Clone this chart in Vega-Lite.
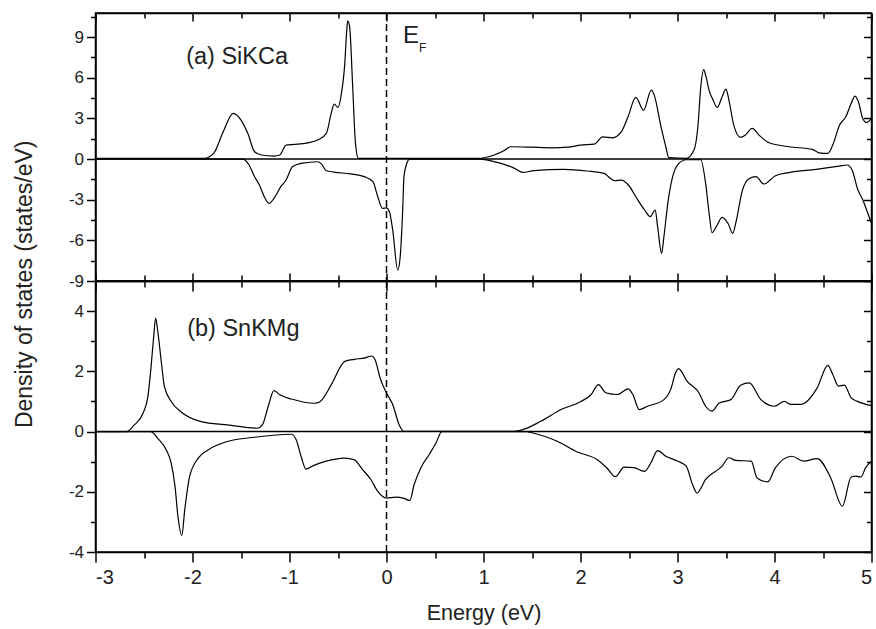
{
  "$schema": "https://vega.github.io/schema/vega-lite/v6.json",
  "padding": {"left": 12.5, "top": 11, "right": 5, "bottom": 5},
  "spacing": 0,
  "bounds": "flush",
  "datasets": {
    "top": [
      {"E": -3, "D": 0.05, "spin": "up"}, {"E": -1.88, "D": 0.05, "spin": "up"}, {"E": -1.78, "D": 0.44, "spin": "up"}, {"E": -1.69, "D": 1.9, "spin": "up"}, {"E": -1.58, "D": 3.37, "spin": "up"}, {"E": -1.5, "D": 2.88, "spin": "up"}, {"E": -1.43, "D": 1.9, "spin": "up"}, {"E": -1.36, "D": 0.54, "spin": "up"}, {"E": -1.29, "D": 0.3, "spin": "up"}, {"E": -1.16, "D": 0.22, "spin": "up"}, {"E": -1.1, "D": 0.3, "spin": "up"}, {"E": -1.035, "D": 1.03, "spin": "up"}, {"E": -0.95, "D": 1.08, "spin": "up"}, {"E": -0.81, "D": 1.2, "spin": "up"}, {"E": -0.71, "D": 1.4, "spin": "up"}, {"E": -0.62, "D": 1.9, "spin": "up"}, {"E": -0.57, "D": 3.37, "spin": "up"}, {"E": -0.54, "D": 4.06, "spin": "up"}, {"E": -0.5, "D": 3.81, "spin": "up"}, {"E": -0.47, "D": 4.6, "spin": "up"}, {"E": -0.43, "D": 7.06, "spin": "up"}, {"E": -0.41, "D": 9.5, "spin": "up"}, {"E": -0.4, "D": 10.2, "spin": "up"}, {"E": -0.38, "D": 9.76, "spin": "up"}, {"E": -0.35, "D": 5.58, "spin": "up"}, {"E": -0.32, "D": 1.16, "spin": "up"}, {"E": -0.29, "D": 0.05, "spin": "up"}, {"E": 0.94, "D": 0.05, "spin": "up"}, {"E": 1.11, "D": 0.3, "spin": "up"}, {"E": 1.21, "D": 0.61, "spin": "up"}, {"E": 1.28, "D": 0.91, "spin": "up"}, {"E": 1.49, "D": 0.88, "spin": "up"}, {"E": 1.7, "D": 0.83, "spin": "up"}, {"E": 1.87, "D": 0.88, "spin": "up"}, {"E": 2.0, "D": 1.03, "spin": "up"}, {"E": 2.14, "D": 1.1, "spin": "up"}, {"E": 2.23, "D": 1.64, "spin": "up"}, {"E": 2.33, "D": 1.57, "spin": "up"}, {"E": 2.42, "D": 2.0, "spin": "up"}, {"E": 2.49, "D": 3.12, "spin": "up"}, {"E": 2.57, "D": 4.55, "spin": "up"}, {"E": 2.65, "D": 3.6, "spin": "up"}, {"E": 2.73, "D": 5.09, "spin": "up"}, {"E": 2.76, "D": 4.72, "spin": "up"}, {"E": 2.83, "D": 2.38, "spin": "up"}, {"E": 2.88, "D": 0.9, "spin": "up"}, {"E": 2.91, "D": 0.1, "spin": "up"}, {"E": 3.09, "D": 0.05, "spin": "up"}, {"E": 3.17, "D": 0.66, "spin": "up"}, {"E": 3.21, "D": 2.38, "spin": "up"}, {"E": 3.24, "D": 5.33, "spin": "up"}, {"E": 3.27, "D": 6.6, "spin": "up"}, {"E": 3.29, "D": 6.2, "spin": "up"}, {"E": 3.33, "D": 4.96, "spin": "up"}, {"E": 3.36, "D": 4.47, "spin": "up"}, {"E": 3.41, "D": 3.81, "spin": "up"}, {"E": 3.46, "D": 4.6, "spin": "up"}, {"E": 3.5, "D": 5.16, "spin": "up"}, {"E": 3.53, "D": 4.35, "spin": "up"}, {"E": 3.58, "D": 2.5, "spin": "up"}, {"E": 3.65, "D": 1.6, "spin": "up"}, {"E": 3.7, "D": 1.77, "spin": "up"}, {"E": 3.77, "D": 2.26, "spin": "up"}, {"E": 3.84, "D": 1.77, "spin": "up"}, {"E": 3.945, "D": 1.2, "spin": "up"}, {"E": 4.15, "D": 0.91, "spin": "up"}, {"E": 4.39, "D": 0.71, "spin": "up"}, {"E": 4.46, "D": 0.46, "spin": "up"}, {"E": 4.55, "D": 0.42, "spin": "up"}, {"E": 4.6, "D": 1.03, "spin": "up"}, {"E": 4.67, "D": 2.5, "spin": "up"}, {"E": 4.735, "D": 3.12, "spin": "up"}, {"E": 4.79, "D": 4.1, "spin": "up"}, {"E": 4.83, "D": 4.65, "spin": "up"}, {"E": 4.865, "D": 4.23, "spin": "up"}, {"E": 4.91, "D": 3.0, "spin": "up"}, {"E": 4.95, "D": 2.7, "spin": "up"}, {"E": 5.0, "D": 3.0, "spin": "up"},
      {"E": -3, "D": 0, "spin": "down"}, {"E": -1.48, "D": 0, "spin": "down"}, {"E": -1.42, "D": -0.4, "spin": "down"}, {"E": -1.36, "D": -1.3, "spin": "down"}, {"E": -1.31, "D": -1.92, "spin": "down"}, {"E": -1.26, "D": -2.78, "spin": "down"}, {"E": -1.21, "D": -3.27, "spin": "down"}, {"E": -1.16, "D": -2.9, "spin": "down"}, {"E": -1.09, "D": -2.04, "spin": "down"}, {"E": -1.035, "D": -1.55, "spin": "down"}, {"E": -0.97, "D": -0.57, "spin": "down"}, {"E": -0.88, "D": -0.32, "spin": "down"}, {"E": -0.71, "D": -0.2, "spin": "down"}, {"E": -0.67, "D": -0.37, "spin": "down"}, {"E": -0.62, "D": -0.86, "spin": "down"}, {"E": -0.54, "D": -0.96, "spin": "down"}, {"E": -0.37, "D": -1.1, "spin": "down"}, {"E": -0.23, "D": -1.3, "spin": "down"}, {"E": -0.14, "D": -1.67, "spin": "down"}, {"E": -0.09, "D": -2.78, "spin": "down"}, {"E": -0.04, "D": -3.64, "spin": "down"}, {"E": 0.0, "D": -3.6, "spin": "down"}, {"E": 0.03, "D": -3.89, "spin": "down"}, {"E": 0.064, "D": -5.24, "spin": "down"}, {"E": 0.116, "D": -8.19, "spin": "down"}, {"E": 0.14, "D": -7.3, "spin": "down"}, {"E": 0.167, "D": -3.76, "spin": "down"}, {"E": 0.18, "D": -1.3, "spin": "down"}, {"E": 0.21, "D": -0.32, "spin": "down"}, {"E": 0.235, "D": 0, "spin": "down"}, {"E": 0.94, "D": 0, "spin": "down"}, {"E": 1.18, "D": -0.32, "spin": "down"}, {"E": 1.32, "D": -0.69, "spin": "down"}, {"E": 1.4, "D": -0.98, "spin": "down"}, {"E": 1.52, "D": -0.86, "spin": "down"}, {"E": 1.83, "D": -0.76, "spin": "down"}, {"E": 2.07, "D": -0.88, "spin": "down"}, {"E": 2.245, "D": -1.06, "spin": "down"}, {"E": 2.3, "D": -1.38, "spin": "down"}, {"E": 2.35, "D": -1.6, "spin": "down"}, {"E": 2.42, "D": -1.55, "spin": "down"}, {"E": 2.5, "D": -1.97, "spin": "down"}, {"E": 2.57, "D": -2.78, "spin": "down"}, {"E": 2.66, "D": -3.76, "spin": "down"}, {"E": 2.72, "D": -4.25, "spin": "down"}, {"E": 2.77, "D": -3.76, "spin": "down"}, {"E": 2.795, "D": -4.99, "spin": "down"}, {"E": 2.836, "D": -6.96, "spin": "down"}, {"E": 2.86, "D": -5.73, "spin": "down"}, {"E": 2.9, "D": -3.27, "spin": "down"}, {"E": 2.95, "D": -1.3, "spin": "down"}, {"E": 3.0, "D": -0.44, "spin": "down"}, {"E": 3.09, "D": -0.05, "spin": "down"}, {"E": 3.24, "D": -0.05, "spin": "down"}, {"E": 3.29, "D": -1.8, "spin": "down"}, {"E": 3.33, "D": -4.25, "spin": "down"}, {"E": 3.355, "D": -5.43, "spin": "down"}, {"E": 3.4, "D": -4.99, "spin": "down"}, {"E": 3.46, "D": -4.3, "spin": "down"}, {"E": 3.52, "D": -4.74, "spin": "down"}, {"E": 3.57, "D": -5.48, "spin": "down"}, {"E": 3.6, "D": -4.74, "spin": "down"}, {"E": 3.67, "D": -2.29, "spin": "down"}, {"E": 3.74, "D": -1.43, "spin": "down"}, {"E": 3.81, "D": -1.3, "spin": "down"}, {"E": 3.89, "D": -1.84, "spin": "down"}, {"E": 4.01, "D": -1.23, "spin": "down"}, {"E": 4.15, "D": -1.0, "spin": "down"}, {"E": 4.43, "D": -0.76, "spin": "down"}, {"E": 4.67, "D": -0.52, "spin": "down"}, {"E": 4.75, "D": -0.44, "spin": "down"}, {"E": 4.8, "D": -0.81, "spin": "down"}, {"E": 4.86, "D": -2.29, "spin": "down"}, {"E": 4.91, "D": -3.0, "spin": "down"}, {"E": 4.95, "D": -3.76, "spin": "down"}, {"E": 5.0, "D": -4.74, "spin": "down"}
    ],
    "bottom": [
      {"E": -3, "D": 0, "spin": "up"}, {"E": -2.68, "D": 0, "spin": "up"}, {"E": -2.6, "D": 0.22, "spin": "up"}, {"E": -2.51, "D": 0.61, "spin": "up"}, {"E": -2.46, "D": 1.16, "spin": "up"}, {"E": -2.43, "D": 2.05, "spin": "up"}, {"E": -2.4, "D": 3.16, "spin": "up"}, {"E": -2.38, "D": 3.77, "spin": "up"}, {"E": -2.36, "D": 3.38, "spin": "up"}, {"E": -2.32, "D": 2.27, "spin": "up"}, {"E": -2.29, "D": 1.5, "spin": "up"}, {"E": -2.22, "D": 1.0, "spin": "up"}, {"E": -2.12, "D": 0.66, "spin": "up"}, {"E": -1.91, "D": 0.33, "spin": "up"}, {"E": -1.64, "D": 0.22, "spin": "up"}, {"E": -1.33, "D": 0.11, "spin": "up"}, {"E": -1.28, "D": 0.22, "spin": "up"}, {"E": -1.22, "D": 0.83, "spin": "up"}, {"E": -1.16, "D": 1.36, "spin": "up"}, {"E": -1.1, "D": 1.22, "spin": "up"}, {"E": -0.98, "D": 1.08, "spin": "up"}, {"E": -0.74, "D": 0.94, "spin": "up"}, {"E": -0.69, "D": 0.98, "spin": "up"}, {"E": -0.57, "D": 1.55, "spin": "up"}, {"E": -0.43, "D": 2.33, "spin": "up"}, {"E": -0.33, "D": 2.4, "spin": "up"}, {"E": -0.23, "D": 2.44, "spin": "up"}, {"E": -0.15, "D": 2.51, "spin": "up"}, {"E": -0.12, "D": 2.4, "spin": "up"}, {"E": -0.06, "D": 1.72, "spin": "up"}, {"E": 0.0, "D": 1.28, "spin": "up"}, {"E": 0.064, "D": 0.9, "spin": "up"}, {"E": 0.13, "D": 0.23, "spin": "up"}, {"E": 0.18, "D": 0.01, "spin": "up"}, {"E": 1.3, "D": 0.01, "spin": "up"}, {"E": 1.39, "D": 0.05, "spin": "up"}, {"E": 1.59, "D": 0.34, "spin": "up"}, {"E": 1.8, "D": 0.73, "spin": "up"}, {"E": 2.0, "D": 0.99, "spin": "up"}, {"E": 2.11, "D": 1.23, "spin": "up"}, {"E": 2.185, "D": 1.56, "spin": "up"}, {"E": 2.26, "D": 1.29, "spin": "up"}, {"E": 2.38, "D": 1.23, "spin": "up"}, {"E": 2.49, "D": 1.42, "spin": "up"}, {"E": 2.54, "D": 1.23, "spin": "up"}, {"E": 2.605, "D": 0.73, "spin": "up"}, {"E": 2.69, "D": 0.84, "spin": "up"}, {"E": 2.86, "D": 1.06, "spin": "up"}, {"E": 2.93, "D": 1.4, "spin": "up"}, {"E": 2.98, "D": 1.95, "spin": "up"}, {"E": 3.01, "D": 2.09, "spin": "up"}, {"E": 3.1, "D": 1.67, "spin": "up"}, {"E": 3.22, "D": 1.29, "spin": "up"}, {"E": 3.29, "D": 0.84, "spin": "up"}, {"E": 3.355, "D": 0.68, "spin": "up"}, {"E": 3.43, "D": 0.95, "spin": "up"}, {"E": 3.55, "D": 1.06, "spin": "up"}, {"E": 3.65, "D": 1.54, "spin": "up"}, {"E": 3.74, "D": 1.62, "spin": "up"}, {"E": 3.86, "D": 1.06, "spin": "up"}, {"E": 4.0, "D": 0.84, "spin": "up"}, {"E": 4.1, "D": 1.0, "spin": "up"}, {"E": 4.17, "D": 0.9, "spin": "up"}, {"E": 4.27, "D": 0.9, "spin": "up"}, {"E": 4.44, "D": 1.45, "spin": "up"}, {"E": 4.55, "D": 2.2, "spin": "up"}, {"E": 4.6, "D": 1.9, "spin": "up"}, {"E": 4.66, "D": 1.51, "spin": "up"}, {"E": 4.72, "D": 1.54, "spin": "up"}, {"E": 4.79, "D": 1.12, "spin": "up"}, {"E": 4.85, "D": 1.01, "spin": "up"}, {"E": 5.0, "D": 0.86, "spin": "up"},
      {"E": -3, "D": 0, "spin": "down"}, {"E": -2.43, "D": 0, "spin": "down"}, {"E": -2.36, "D": -0.22, "spin": "down"}, {"E": -2.27, "D": -0.61, "spin": "down"}, {"E": -2.22, "D": -1.05, "spin": "down"}, {"E": -2.18, "D": -1.83, "spin": "down"}, {"E": -2.15, "D": -2.82, "spin": "down"}, {"E": -2.11, "D": -3.45, "spin": "down"}, {"E": -2.08, "D": -2.6, "spin": "down"}, {"E": -2.03, "D": -1.5, "spin": "down"}, {"E": -1.94, "D": -0.88, "spin": "down"}, {"E": -1.84, "D": -0.61, "spin": "down"}, {"E": -1.64, "D": -0.33, "spin": "down"}, {"E": -1.36, "D": -0.19, "spin": "down"}, {"E": -0.98, "D": -0.09, "spin": "down"}, {"E": -0.93, "D": -0.28, "spin": "down"}, {"E": -0.88, "D": -0.83, "spin": "down"}, {"E": -0.83, "D": -1.25, "spin": "down"}, {"E": -0.76, "D": -1.14, "spin": "down"}, {"E": -0.64, "D": -1.0, "spin": "down"}, {"E": -0.43, "D": -0.88, "spin": "down"}, {"E": -0.33, "D": -0.94, "spin": "down"}, {"E": -0.25, "D": -1.25, "spin": "down"}, {"E": -0.16, "D": -1.6, "spin": "down"}, {"E": -0.09, "D": -1.99, "spin": "down"}, {"E": 0.0, "D": -2.21, "spin": "down"}, {"E": 0.1, "D": -2.18, "spin": "down"}, {"E": 0.18, "D": -2.22, "spin": "down"}, {"E": 0.24, "D": -2.29, "spin": "down"}, {"E": 0.285, "D": -1.76, "spin": "down"}, {"E": 0.355, "D": -1.2, "spin": "down"}, {"E": 0.44, "D": -0.76, "spin": "down"}, {"E": 0.51, "D": -0.38, "spin": "down"}, {"E": 0.57, "D": 0, "spin": "down"}, {"E": 1.45, "D": 0, "spin": "down"}, {"E": 1.49, "D": -0.03, "spin": "down"}, {"E": 1.76, "D": -0.32, "spin": "down"}, {"E": 1.96, "D": -0.67, "spin": "down"}, {"E": 2.17, "D": -0.93, "spin": "down"}, {"E": 2.27, "D": -1.2, "spin": "down"}, {"E": 2.36, "D": -1.5, "spin": "down"}, {"E": 2.45, "D": -1.18, "spin": "down"}, {"E": 2.55, "D": -1.2, "spin": "down"}, {"E": 2.66, "D": -1.32, "spin": "down"}, {"E": 2.725, "D": -1.04, "spin": "down"}, {"E": 2.795, "D": -0.63, "spin": "down"}, {"E": 2.88, "D": -0.82, "spin": "down"}, {"E": 3.0, "D": -0.98, "spin": "down"}, {"E": 3.09, "D": -1.15, "spin": "down"}, {"E": 3.155, "D": -1.76, "spin": "down"}, {"E": 3.2, "D": -2.04, "spin": "down"}, {"E": 3.29, "D": -1.59, "spin": "down"}, {"E": 3.46, "D": -1.15, "spin": "down"}, {"E": 3.53, "D": -0.87, "spin": "down"}, {"E": 3.6, "D": -0.96, "spin": "down"}, {"E": 3.76, "D": -0.98, "spin": "down"}, {"E": 3.82, "D": -1.54, "spin": "down"}, {"E": 3.93, "D": -1.67, "spin": "down"}, {"E": 4.01, "D": -1.2, "spin": "down"}, {"E": 4.18, "D": -0.82, "spin": "down"}, {"E": 4.3, "D": -0.98, "spin": "down"}, {"E": 4.44, "D": -0.9, "spin": "down"}, {"E": 4.58, "D": -1.54, "spin": "down"}, {"E": 4.7, "D": -2.48, "spin": "down"}, {"E": 4.79, "D": -1.51, "spin": "down"}, {"E": 4.84, "D": -1.48, "spin": "down"}, {"E": 4.89, "D": -1.51, "spin": "down"}, {"E": 4.94, "D": -1.2, "spin": "down"}, {"E": 5.0, "D": -0.98, "spin": "down"}
    ],
    "labelsTop": [{"label": "(a) SiKCa", "kind": "name"}, {"label": "E", "kind": "E"}, {"label": "F", "kind": "F"}],
    "labelsBottom": [{"label": "(b) SnKMg", "kind": "name"}],
    "one": [{"k": 0}]
  },
  "vconcat": [
    {
      "width": 776,
      "height": 268,
      "layer": [
        {
          "data": {"name": "top"},
          "mark": {"type": "line", "color": "black", "strokeWidth": 1.2, "interpolate": "monotone"},
          "encoding": {
            "x": {"field": "E", "type": "quantitative", "scale": {"domain": [-3, 5], "nice": false, "zero": false},
              "axis": {"orient": "bottom", "values": [-3, -2.5, -2, -1.5, -1, -0.5, 0, 0.5, 1, 1.5, 2, 2.5, 3, 3.5, 4, 4.5, 5], "labels": false, "title": null,
                "tickSize": {"condition": {"test": "datum.value % 1 !== 0", "value": -6}, "value": -8}}},
            "y": {"field": "D", "type": "quantitative", "scale": {"domain": [-9, 10.78], "nice": false, "zero": false},
              "axis": {"orient": "left", "values": [-9, -7.5, -6, -4.5, -3, -1.5, 0, 1.5, 3, 4.5, 6, 7.5, 9, 10.5],
                "labelExpr": "datum.value % 3 === 0 ? '' + datum.value : ''", "labelFontSize": 17, "labelPadding": 3,
                "tickSize": {"condition": {"test": "datum.value % 3 !== 0", "value": 5}, "value": 9},
                "title": "Density of states (states/eV)", "titleFontSize": 23, "titleX": -64, "titleY": 270.8,
                "titleBaseline": "alphabetic", "titleAlign": "center", "titleAngle": -90}},
            "detail": {"field": "spin"}
          }
        },
        {
          "data": {"name": "top"},
          "mark": {"type": "line", "opacity": 0},
          "encoding": {
            "x": {"field": "E", "type": "quantitative",
              "axis": {"orient": "top", "values": [-3, -2.5, -2, -1.5, -1, -0.5, 0, 0.5, 1, 1.5, 2, 2.5, 3, 3.5, 4, 4.5, 5], "labels": false, "title": null,
                "tickSize": {"condition": {"test": "datum.value % 1 !== 0", "value": -5}, "value": -8}}},
            "y": {"field": "D", "type": "quantitative",
              "axis": {"orient": "right", "values": [-9, -7.5, -6, -4.5, -3, -1.5, 0, 1.5, 3, 4.5, 6, 7.5, 9, 10.5], "labels": false, "title": null,
                "tickSize": {"condition": {"test": "datum.value % 3 !== 0", "value": -5}, "value": -8}}},
            "detail": {"field": "spin"}
          }
        },
        {
          "data": {"name": "one"},
          "mark": {"type": "rule", "color": "black", "strokeWidth": 1.5},
          "encoding": {"y": {"datum": 0, "type": "quantitative", "axis": null}}
        },
        {
          "data": {"name": "one"},
          "mark": {"type": "rule", "color": "black", "strokeWidth": 1.5, "strokeDash": [7, 4]},
          "encoding": {"x": {"datum": 0, "type": "quantitative", "axis": null}}
        },
        {
          "data": {"name": "labelsTop"},
          "transform": [{"filter": "datum.kind === 'name'"}],
          "mark": {"type": "text", "align": "left", "baseline": "alphabetic", "fontSize": 23.5, "color": "#222"},
          "encoding": {"x": {"datum": -2.065, "type": "quantitative", "axis": null}, "y": {"datum": 7.0, "type": "quantitative", "axis": null}, "text": {"field": "label"}}
        },
        {
          "data": {"name": "labelsTop"},
          "transform": [{"filter": "datum.kind === 'E'"}],
          "mark": {"type": "text", "align": "left", "baseline": "alphabetic", "fontSize": 24, "color": "#222"},
          "encoding": {"x": {"datum": 0.17, "type": "quantitative", "axis": null}, "y": {"datum": 8.53, "type": "quantitative", "axis": null}, "text": {"field": "label"}}
        },
        {
          "data": {"name": "labelsTop"},
          "transform": [{"filter": "datum.kind === 'F'"}],
          "mark": {"type": "text", "align": "left", "baseline": "alphabetic", "fontSize": 12, "color": "#222"},
          "encoding": {"x": {"datum": 0.335, "type": "quantitative", "axis": null}, "y": {"datum": 7.89, "type": "quantitative", "axis": null}, "text": {"field": "label"}}
        }
      ],
      "resolve": {"axis": {"x": "independent", "y": "independent"}}
    },
    {
      "width": 776,
      "height": 271,
      "layer": [
        {
          "data": {"name": "bottom"},
          "mark": {"type": "line", "color": "black", "strokeWidth": 1.2, "interpolate": "monotone"},
          "encoding": {
            "x": {"field": "E", "type": "quantitative", "scale": {"domain": [-3, 5], "nice": false, "zero": false},
              "axis": {"orient": "bottom", "values": [-3, -2.5, -2, -1.5, -1, -0.5, 0, 0.5, 1, 1.5, 2, 2.5, 3, 3.5, 4, 4.5, 5],
                "labelExpr": "datum.value % 1 === 0 ? '' + datum.value : ''", "labelFontSize": 20, "labelPadding": 5,
                "tickSize": {"condition": {"test": "datum.value % 1 !== 0", "value": 6}, "value": 10},
                "title": "Energy (eV)", "titleFontSize": 21.5, "titleY": 67, "titleBaseline": "alphabetic"}},
            "y": {"field": "D", "type": "quantitative", "scale": {"domain": [-4, 5], "nice": false, "zero": false},
              "axis": {"orient": "left", "values": [-4, -3, -2, -1, 0, 1, 2, 3, 4],
                "labelExpr": "datum.value % 2 === 0 ? '' + datum.value : ''", "labelFontSize": 17, "labelPadding": 3,
                "tickSize": {"condition": {"test": "datum.value % 2 !== 0", "value": 5}, "value": 9},
                "title": null}},
            "detail": {"field": "spin"}
          }
        },
        {
          "data": {"name": "bottom"},
          "mark": {"type": "line", "opacity": 0},
          "encoding": {
            "x": {"field": "E", "type": "quantitative",
              "axis": {"orient": "top", "values": [-3, -2.5, -2, -1.5, -1, -0.5, 0, 0.5, 1, 1.5, 2, 2.5, 3, 3.5, 4, 4.5, 5], "labels": false, "title": null,
                "tickSize": {"condition": {"test": "datum.value % 1 !== 0", "value": -6}, "value": -10}}},
            "y": {"field": "D", "type": "quantitative",
              "axis": {"orient": "right", "values": [-4, -3, -2, -1, 0, 1, 2, 3, 4], "labels": false, "title": null,
                "tickSize": {"condition": {"test": "datum.value % 2 !== 0", "value": -5}, "value": -8}}},
            "detail": {"field": "spin"}
          }
        },
        {
          "data": {"name": "one"},
          "mark": {"type": "rule", "color": "black", "strokeWidth": 1.5},
          "encoding": {"y": {"datum": 0, "type": "quantitative", "axis": null}}
        },
        {
          "data": {"name": "one"},
          "mark": {"type": "rule", "color": "black", "strokeWidth": 1.5, "strokeDash": [7, 4]},
          "encoding": {"x": {"datum": 0, "type": "quantitative", "axis": null}}
        },
        {
          "data": {"name": "labelsBottom"},
          "mark": {"type": "text", "align": "left", "baseline": "alphabetic", "fontSize": 23.5, "color": "#222"},
          "encoding": {"x": {"datum": -2.055, "type": "quantitative", "axis": null}, "y": {"datum": 3.17, "type": "quantitative", "axis": null}, "text": {"field": "label"}}
        }
      ],
      "resolve": {"axis": {"x": "independent", "y": "independent"}}
    }
  ],
  "config": {
    "font": "Liberation Sans",
    "view": {"stroke": "black", "strokeWidth": 1.5},
    "axis": {"domainColor": "black", "domainWidth": 1.5, "tickColor": "black", "tickWidth": 1.5, "labelColor": "#222", "titleColor": "#222", "grid": false, "labelFont": "Liberation Sans", "titleFont": "Liberation Sans", "titleFontWeight": "normal"}
  }
}
